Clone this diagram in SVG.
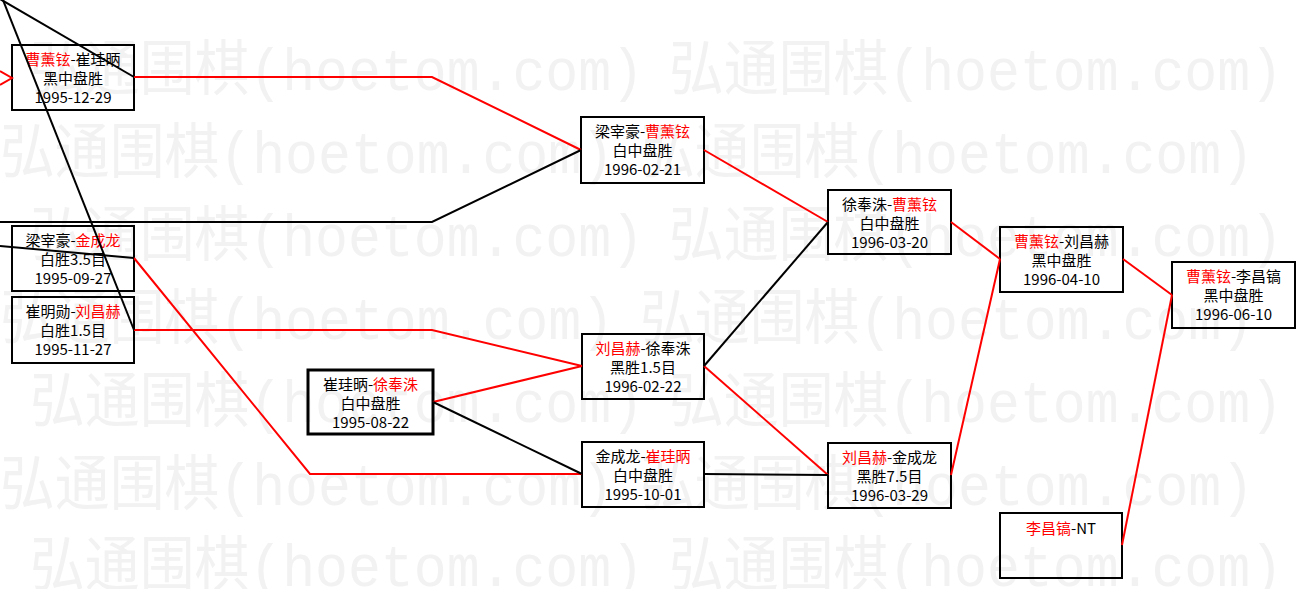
<svg xmlns="http://www.w3.org/2000/svg" width="1305" height="589" viewBox="0 0 1305 589">
<style>
.wm{font-family:"Liberation Mono","Noto Sans CJK SC",monospace;font-size:60px;fill:#f2f2f2}
.box{fill:none;stroke:#000;stroke-width:2}
.thick{stroke-width:3}
.t{font-family:"Noto Sans CJK SC","Noto Sans",sans-serif;font-size:15px;fill:#000;text-anchor:middle}
.r{fill:#ff0000}
.lr{fill:none;stroke:#ff0000;stroke-width:2}
.lb{fill:none;stroke:#000;stroke-width:2}
</style>
<rect x="0" y="0" width="1305" height="589" fill="#ffffff"/>
<g id="watermark">
<text class="wm" x="30" y="90" textLength="614" lengthAdjust="spacingAndGlyphs">弘通围棋(hoetom.com)</text>
<text class="wm" x="669" y="90" textLength="614" lengthAdjust="spacingAndGlyphs">弘通围棋(hoetom.com)</text>
<text class="wm" x="0" y="173" textLength="614" lengthAdjust="spacingAndGlyphs">弘通围棋(hoetom.com)</text>
<text class="wm" x="640" y="173" textLength="614" lengthAdjust="spacingAndGlyphs">弘通围棋(hoetom.com)</text>
<text class="wm" x="30" y="256" textLength="614" lengthAdjust="spacingAndGlyphs">弘通围棋(hoetom.com)</text>
<text class="wm" x="669" y="256" textLength="614" lengthAdjust="spacingAndGlyphs">弘通围棋(hoetom.com)</text>
<text class="wm" x="0" y="339" textLength="614" lengthAdjust="spacingAndGlyphs">弘通围棋(hoetom.com)</text>
<text class="wm" x="640" y="339" textLength="614" lengthAdjust="spacingAndGlyphs">弘通围棋(hoetom.com)</text>
<text class="wm" x="30" y="422" textLength="614" lengthAdjust="spacingAndGlyphs">弘通围棋(hoetom.com)</text>
<text class="wm" x="669" y="422" textLength="614" lengthAdjust="spacingAndGlyphs">弘通围棋(hoetom.com)</text>
<text class="wm" x="0" y="505" textLength="614" lengthAdjust="spacingAndGlyphs">弘通围棋(hoetom.com)</text>
<text class="wm" x="640" y="505" textLength="614" lengthAdjust="spacingAndGlyphs">弘通围棋(hoetom.com)</text>
<text class="wm" x="30" y="586" textLength="614" lengthAdjust="spacingAndGlyphs">弘通围棋(hoetom.com)</text>
<text class="wm" x="669" y="586" textLength="614" lengthAdjust="spacingAndGlyphs">弘通围棋(hoetom.com)</text>
</g>
<g id="n1"><rect class="box" x="12" y="45" width="122" height="65"/>
<text class="t" x="73" y="65"><tspan class="r">曹薰铉</tspan>-崔珪昞</text><text class="t" x="73" y="84">黑中盘胜</text><text class="t" x="73" y="103">1995-12-29</text></g>
<g id="n2"><rect class="box" x="12" y="226" width="122" height="65"/>
<text class="t" x="73" y="246">梁宰豪-<tspan class="r">金成龙</tspan></text><text class="t" x="73" y="265">白胜3.5目</text><text class="t" x="73" y="284">1995-09-27</text></g>
<g id="n3"><rect class="box" x="12" y="297" width="122" height="66"/>
<text class="t" x="73" y="317">崔明勋-<tspan class="r">刘昌赫</tspan></text><text class="t" x="73" y="336">白胜1.5目</text><text class="t" x="73" y="355">1995-11-27</text></g>
<g id="n4"><rect class="box thick" x="308" y="370" width="125" height="64"/>
<text class="t" x="370.5" y="390">崔珪昞-<tspan class="r">徐奉洙</tspan></text><text class="t" x="370.5" y="409">白中盘胜</text><text class="t" x="370.5" y="428">1995-08-22</text></g>
<g id="n5"><rect class="box" x="581" y="117" width="123" height="66"/>
<text class="t" x="642.5" y="137">梁宰豪-<tspan class="r">曹薰铉</tspan></text><text class="t" x="642.5" y="156">白中盘胜</text><text class="t" x="642.5" y="175">1996-02-21</text></g>
<g id="n6"><rect class="box" x="582" y="334" width="122" height="65"/>
<text class="t" x="643" y="354"><tspan class="r">刘昌赫</tspan>-徐奉洙</text><text class="t" x="643" y="373">黑胜1.5目</text><text class="t" x="643" y="392">1996-02-22</text></g>
<g id="n7"><rect class="box" x="582" y="442" width="122" height="65"/>
<text class="t" x="643" y="462">金成龙-<tspan class="r">崔珪昞</tspan></text><text class="t" x="643" y="481">白中盘胜</text><text class="t" x="643" y="500">1995-10-01</text></g>
<g id="n8"><rect class="box" x="828" y="190" width="123" height="64"/>
<text class="t" x="889.5" y="210">徐奉洙-<tspan class="r">曹薰铉</tspan></text><text class="t" x="889.5" y="229">白中盘胜</text><text class="t" x="889.5" y="248">1996-03-20</text></g>
<g id="n9"><rect class="box" x="828" y="443" width="123" height="65"/>
<text class="t" x="889.5" y="463"><tspan class="r">刘昌赫</tspan>-金成龙</text><text class="t" x="889.5" y="482">黑胜7.5目</text><text class="t" x="889.5" y="501">1996-03-29</text></g>
<g id="n10"><rect class="box" x="1000" y="227" width="123" height="65"/>
<text class="t" x="1061.5" y="247"><tspan class="r">曹薰铉</tspan>-刘昌赫</text><text class="t" x="1061.5" y="266">黑中盘胜</text><text class="t" x="1061.5" y="285">1996-04-10</text></g>
<g id="n11"><rect class="box" x="1172" y="262" width="123" height="66"/>
<text class="t" x="1233.5" y="282"><tspan class="r">曹薰铉</tspan>-李昌镐</text><text class="t" x="1233.5" y="301">黑中盘胜</text><text class="t" x="1233.5" y="320">1996-06-10</text></g>
<g id="n12"><rect class="box" x="1000" y="513" width="122" height="65"/>
<text class="t" x="1061" y="534"><tspan class="r">李昌镐</tspan>-NT</text></g>
<g id="connectors">
<polyline class="lr" points="0,71 12,78 0,85"/>
<polyline class="lr" points="134,77 432,77 581,150"/>
<polyline class="lr" points="704,150 828,222"/>
<polyline class="lr" points="951,222 1000,259"/>
<polyline class="lr" points="1123,259 1172,295"/>
<polyline class="lr" points="1122,545 1172,295"/>
<polyline class="lr" points="951,475 1000,259"/>
<polyline class="lr" points="704,366 828,475"/>
<polyline class="lr" points="433,402 582,366"/>
<polyline class="lr" points="134,330 432,330 582,366"/>
<polyline class="lr" points="134,258 310,474 582,474"/>
<polyline class="lb" points="704,366 828,222"/>
<polyline class="lb" points="704,474 828,475"/>
<polyline class="lb" points="433,402 582,474"/>
<polyline class="lb" points="0,222 432,222 581,150"/>
<polyline class="lb" points="0,246 134,258"/>
<polyline class="lb" points="0,-1 134,77"/>
<polyline class="lb" points="1,-5 134,330"/>
</g>
</svg>
